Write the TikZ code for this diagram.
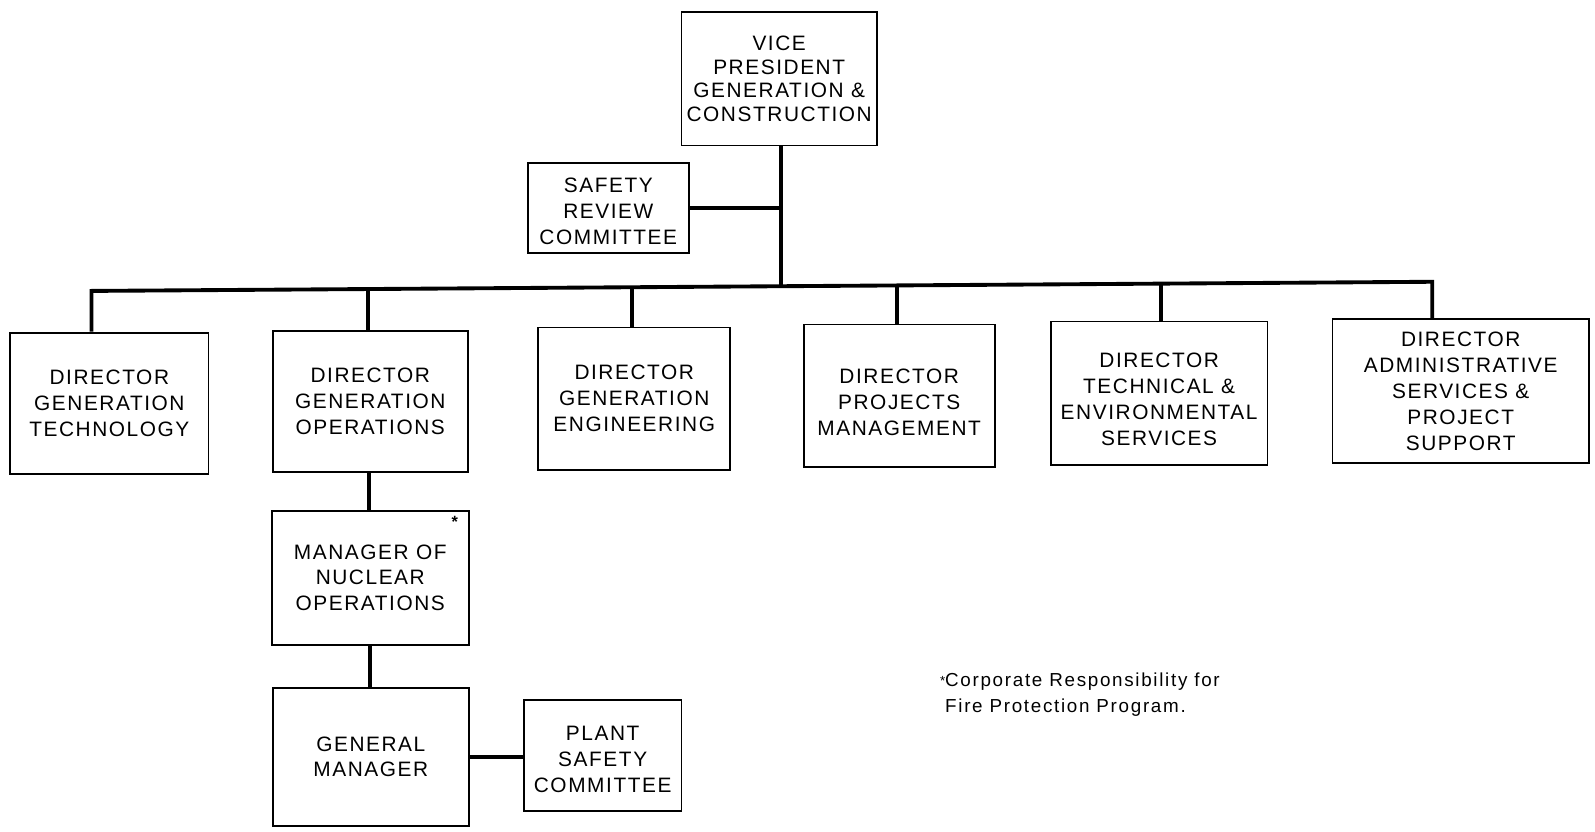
\documentclass[tikz,border=0pt]{standalone}
\usepackage{fontspec}
\setmainfont{Liberation Sans}
\newfontfamily\boxfont{Liberation Sans}[LetterSpace=7.5]
\newfontfamily\notefont{Liberation Sans}[LetterSpace=9]
\usetikzlibrary{calc}
\begin{document}
\begin{tikzpicture}[x=1pt,y=-1pt,
  box/.style={draw, line width=1.8pt, inner sep=0pt, align=center,
    font=\boxfont\fontsize{20.5}{25.5}\selectfont},
  link/.style={line width=3.8pt, line join=miter},
  note/.style={anchor=base west, inner sep=0pt, font=\notefont\fontsize{18.5}{22}\selectfont}
]
\useasboundingbox (0,0) rectangle (1568,817);

% boxes
\node[box, minimum width=192, minimum height=131,
      font=\boxfont\fontsize{20.5}{23.5}\selectfont] (vp) at (766,77.5)
  {VICE\\PRESIDENT\\GENERATION \&\\CONSTRUCTION};
\node[box, minimum width=158, minimum height=89] (src) at (598,204.5)
  {\rule{0pt}{21pt}SAFETY\\REVIEW\\COMMITTEE};
\node[box, minimum width=195, minimum height=139] (dgt) at (107.5,396.5)
  {DIRECTOR\\GENERATION\\TECHNOLOGY};
\node[box, minimum width=192, minimum height=139] (dgo) at (364,394.5)
  {DIRECTOR\\GENERATION\\OPERATIONS};
\node[box, minimum width=189, minimum height=140] (dge) at (623.5,392)
  {DIRECTOR\\GENERATION\\ENGINEERING};
\node[box, minimum width=188, minimum height=140] (dpm) at (884,389)
  {\rule{0pt}{27pt}DIRECTOR\\PROJECTS\\MANAGEMENT};
\node[box, minimum width=213, minimum height=141] (dtes) at (1139.5,386.5)
  {\rule{0pt}{26pt}DIRECTOR\\TECHNICAL \&\\ENVIRONMENTAL\\SERVICES};
\node[box, minimum width=252, minimum height=141] (das) at (1436,384.5)
  {DIRECTOR\\ADMINISTRATIVE\\SERVICES \&\\PROJECT\\SUPPORT};
\node[box, minimum width=194, minimum height=132] (mno) at (364,568)
  {MANAGER OF\\NUCLEAR\\OPERATIONS};
\node[box, minimum width=193, minimum height=136] (gm) at (364.5,744)
  {GENERAL\\MANAGER};
\node[box, minimum width=155, minimum height=109] (psc) at (592.5,742.5)
  {\rule{0pt}{22pt}PLANT\\SAFETY\\COMMITTEE};
\node[inner sep=0pt, font=\bfseries\fontsize{16}{16}\selectfont] (ast) at (447,513) {*};

% bus coordinates
\coordinate (b1) at (90,286);
\coordinate (b2) at (362,284.1);
\coordinate (b3) at (621,282.4);
\coordinate (bvp) at (768,281.4);
\coordinate (b4) at (882,280.6);
\coordinate (b5) at (1141,278.8);
\coordinate (b6) at (1408,277);

% connectors
\draw[link] (bvp |- vp.south) -- (bvp);
\draw[link] (src.east) -- (src.east -| bvp);
\draw[link] (b1 |- dgt.north) -- (b1) -- (b6) -- (b6 |- das.north);
\draw[link] (b2) -- (b2 |- dgo.north);
\draw[link] (b3) -- (b3 |- dge.north);
\draw[link] (b4) -- (b4 |- dpm.north);
\draw[link] (b5) -- (b5 |- dtes.north);
\draw[link] ([xshift=-1pt]dgo.south) -- ([xshift=-1pt]dgo.south |- mno.north);
\draw[link] (mno.south) -- (mno.south |- gm.north);
\draw[link] (gm.east) -- (gm.east -| psc.west);

% footnote
\node[note] (fn1) at (929,675) {\llap{\raisebox{1pt}{\fontsize{13}{13}\selectfont*}}Corporate Responsibility for};
\node[note] (fn2) at (929,700) {Fire Protection Program.};
\end{tikzpicture}
\end{document}
